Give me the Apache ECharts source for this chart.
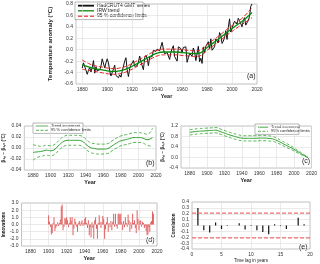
<!DOCTYPE html>
<html><head><meta charset="utf-8">
<script src="https://cdn.jsdelivr.net/npm/echarts@6/dist/echarts.min.js"></script>
<style>html,body{margin:0;padding:0;background:#fff}#c{width:320px;height:264px}</style>
</head><body><div id="c"></div>
<script>
// ---------- Panel (a) ----------
const hadStart = 1880;
const hadcrut = [-0.32,-0.23,-0.26,-0.36,-0.43,-0.36,-0.31,-0.39,-0.31,-0.19,
-0.41,-0.30,-0.37,-0.40,-0.35,-0.29,-0.16,-0.17,-0.32,-0.23,
-0.16,-0.23,-0.37,-0.46,-0.49,-0.34,-0.27,-0.45,-0.46,-0.49,
-0.44,-0.48,-0.38,-0.36,-0.20,-0.14,-0.35,-0.47,-0.33,-0.27,
-0.27,-0.19,-0.29,-0.27,-0.28,-0.22,-0.11,-0.21,-0.21,-0.35,
-0.14,-0.10,-0.15,-0.28,-0.13,-0.16,-0.12,-0.01,-0.01,-0.03,
0.01,0.00,-0.02,-0.01,0.13,0.01,-0.07,-0.04,-0.05,-0.07,
-0.17,-0.05,0.02,0.07,-0.12,-0.14,-0.20,0.05,0.06,0.02,
-0.05,0.04,0.01,0.05,-0.22,-0.14,-0.07,-0.07,-0.11,0.03,
-0.03,-0.19,-0.07,0.06,-0.21,-0.15,-0.24,0.05,-0.06,0.06,
0.09,0.14,0.01,0.19,-0.01,-0.03,0.05,0.19,0.20,0.12,
0.30,0.25,0.11,0.15,0.21,0.33,0.18,0.39,0.54,0.31,
0.29,0.44,0.50,0.51,0.45,0.55,0.51,0.49,0.40,0.51,
0.56,0.43,0.47,0.51,0.58,0.76,0.80];
const trendYears = [1880,1885,1890,1895,1900,1905,1910,1915,1920,1925,1930,1935,1940,1945,1950,1955,1960,1965,1970,1975,1980,1985,1990,1995,2000,2005,2010,2016];
const irwTrend = [-0.26,-0.30,-0.33,-0.35,-0.37,-0.38,-0.37,-0.34,-0.29,-0.23,-0.17,-0.11,-0.06,-0.04,-0.04,-0.04,-0.05,-0.06,-0.07,-0.05,0.04,0.12,0.20,0.29,0.37,0.45,0.53,0.65];
const irwUpper = [-0.18,-0.24,-0.28,-0.30,-0.32,-0.33,-0.32,-0.29,-0.24,-0.18,-0.12,-0.06,-0.01,0.01,0.01,0.01,0.00,-0.01,-0.02,0.00,0.09,0.17,0.25,0.34,0.42,0.50,0.59,0.74];
const irwLower = [-0.34,-0.36,-0.38,-0.40,-0.42,-0.43,-0.42,-0.39,-0.34,-0.28,-0.22,-0.16,-0.11,-0.09,-0.09,-0.09,-0.10,-0.11,-0.12,-0.10,-0.01,0.07,0.15,0.24,0.32,0.40,0.47,0.56];
// ---------- Panel (b) ----------
const incB = [-0.008,-0.007,-0.006,-0.004,-0.005,-0.002,0.006,0.012,0.014,0.014,0.014,0.013,0.007,0.001,-0.001,-0.002,-0.002,-0.001,0.004,0.009,0.013,0.015,0.017,0.019,0.019,0.018,0.015,0.019];
const incBUp = [0.006,0.004,0.003,0.005,0.004,0.007,0.015,0.021,0.023,0.023,0.023,0.022,0.016,0.010,0.008,0.007,0.007,0.008,0.013,0.018,0.022,0.024,0.026,0.028,0.028,0.027,0.025,0.036];
const incBLo = [-0.022,-0.017,-0.015,-0.013,-0.014,-0.011,-0.003,0.003,0.005,0.005,0.005,0.004,-0.002,-0.008,-0.010,-0.011,-0.011,-0.010,-0.005,0.000,0.004,0.006,0.008,0.010,0.010,0.009,0.005,0.003];
// ---------- Panel (c) ----------
const incC = [0.96,0.98,1.00,1.01,1.02,1.03,1.04,0.99,0.93,0.87,0.82,0.77,0.74,0.73,0.73,0.73,0.74,0.74,0.73,0.71,0.65,0.57,0.48,0.40,0.31,0.21,0.11,0.00];
const incCUp = [1.06,1.08,1.10,1.11,1.12,1.13,1.14,1.09,1.03,0.97,0.92,0.87,0.84,0.83,0.83,0.83,0.84,0.84,0.83,0.80,0.74,0.65,0.56,0.47,0.37,0.26,0.14,0.00];
const incCLo = [0.86,0.88,0.90,0.91,0.92,0.93,0.94,0.89,0.83,0.77,0.72,0.67,0.64,0.63,0.63,0.63,0.64,0.64,0.63,0.62,0.56,0.49,0.40,0.33,0.25,0.16,0.08,0.00];
// ---------- Panel (d) ----------
const innovStart = 1900;
const innovations = [1.3,0.4,-0.3,-1.4,-1.2,0.2,1.0,-0.9,-0.5,-0.2,
0.3,-0.2,0.2,0.7,2.5,2.8,-0.8,-0.3,0.9,0.8,
1.0,0.6,-0.4,0.2,1.0,0.5,1.0,-1.5,-0.6,0.8,
0.4,-0.3,-1.0,0.2,0.5,-0.2,0.3,0.6,-0.2,0.2,
0.8,1.0,0.2,-0.5,0.6,-1.5,-0.4,-1.8,0.3,-0.5,
-2.0,0.6,1.0,-0.6,-2.0,0.2,1.3,0.4,-0.5,0.3,
1.2,0.8,-2.0,-0.7,0.3,1.0,-1.0,0.2,-0.4,0.5,
-0.8,0.4,1.5,-0.3,1.5,-0.2,-0.6,1.5,1.5,1.4,
1.5,0.3,-0.8,0.5,-0.4,1.0,0.2,-0.3,1.4,0.6,
-1.0,0.3,-0.6,1.5,0.2,0.6,-0.5,-1.2,2.0,0.8,
-0.8,0.5,0.6,-0.3,0.4,0.2,-0.5,-0.2,-0.9,-1.5,
-1.4,-0.4,-1.0,0.3,0.5,1.8,1.5];
// ---------- Panel (e) ----------
const lags = [1,2,3,4,5,6,7,8,9,10,11,12,13,14,15,16,17,18,19];
const acf = [0.3,-0.08,-0.12,0.05,-0.06,-0.01,0.0,0.04,-0.07,0.01,-0.08,-0.11,-0.15,0.02,-0.01,-0.06,0.0,0.13,0.02];
const acfLimits = [0.21,-0.21];
const yearTicks = [1880,1900,1920,1940,1960,1980,2000,2020];

const F = 'Liberation Sans';
const had = hadcrut.map((v,i)=>[hadStart+i, v]);
const pair = (ys, vs) => ys.map((y,i)=>[y, vs[i]]);
const innov = innovations.map((v,i)=>[innovStart+i, v]);
const acfData = lags.map((l,i)=>[l, acf[i]]);

const gridLine = {show:true, lineStyle:{color:'#dcdcdc', width:0.6}};
const lbl = (extra) => Object.assign({fontSize:5, color:'#333', fontFamily:F, margin:3}, extra||{});
function yearAxis(gi, min, gap){
  return {type:'value', gridIndex:gi, min:min, max:2020,
    axisLine:{show:false}, axisTick:{show:false, customValues:yearTicks},
    axisLabel:lbl({customValues:yearTicks, formatter:v=>String(v)}), splitLine:gridLine,
    name:'Year', nameLocation:'middle', nameGap:gap,
    nameTextStyle:{fontSize:5.5, fontWeight:'bold', fontFamily:F, color:'#222'}};
}
function valAxis(gi, min, max, iv, dec, name, gap, nfs){
  return {type:'value', gridIndex:gi, min:min, max:max, interval:iv,
    axisLine:{show:false}, axisTick:{show:false},
    axisLabel:lbl({formatter:v=>v.toFixed(dec)}), splitLine:gridLine,
    name:name, nameLocation:'middle', nameGap:gap, nameRotate:90,
    nameTextStyle:{fontSize:nfs, fontWeight:'bold', fontFamily:F, color:'#222'}};
}
const gridBox = {show:true, borderColor:'#9a9a9a', borderWidth:0.6, backgroundColor:'#fff'};

// legend drawing helper (graphic)
function legendBox(x, y, w, rowH, items, fs, lineW){
  const els = [{type:'rect', shape:{x:x, y:y, width:w, height:rowH*items.length+2},
    style:{fill:'#fff', stroke:'#888', lineWidth:0.6}}];
  items.forEach((it,i)=>{
    const cy = y + 1 + rowH*i + rowH/2;
    els.push({type:'line', shape:{x1:x+3, y1:cy, x2:x+3+lineW, y2:cy},
      style:{stroke:it.c, lineWidth:it.w, lineDash:it.d||null}});
    els.push({type:'text', x:x+6+lineW, y:cy, style:{text:it.t, fontSize:fs, fontFamily:F, fill:'#222', verticalAlign:'middle'}});
  });
  return {type:'group', z:100, children:els};
}

const option = {
  animation:false,
  grid:[
    Object.assign({left:76, top:4, width:181, height:80}, gridBox),
    Object.assign({left:21, top:126, width:135, height:44}, gridBox),
    Object.assign({left:181, top:126, width:132, height:42}, gridBox),
    Object.assign({left:21, top:203, width:136, height:43}, gridBox),
    Object.assign({left:192, top:202, width:118, height:51}, gridBox)
  ],
  xAxis:[
    yearAxis(0,1875,9),
    yearAxis(1,1870,9),
    yearAxis(2,1870,9),
    yearAxis(3,1870,9),
    {type:'value', gridIndex:4, min:0, max:20, interval:5,
     axisLine:{show:false}, axisTick:{show:false}, axisLabel:lbl(), splitLine:gridLine,
     name:'Time lag in years', nameLocation:'middle', nameGap:9,
     nameTextStyle:{fontSize:4.5, fontFamily:F, color:'#222'}}
  ],
  yAxis:[
    valAxis(0,-0.6,0.8,0.2,1,'Temperature anomaly (°C)',13,6),
    valAxis(1,-0.04,0.04,0.02,2,'β₁,ₜ − β₁,₀ (°C)',15,4.5),
    valAxis(2,-0.4,1.2,0.4,1,'β₂,ₜ − β₂,₀ (°C)',12,4.5),
    valAxis(3,-3,3,1,1,'Innovations',12,4.5),
    valAxis(4,-0.4,0.4,0.1,1,'Correlation',13,4.5)
  ],
  graphic:[
    legendBox(75, 2, 68, 5.2, [
      {t:'HadCRUT4 GMT series', c:'#111', w:2},
      {t:'IRW trend', c:'#0a8a0a', w:1.3},
      {t:'95 % confidence limits', c:'#e02020', w:1.3, d:[4,2]}], 5, 16),
    legendBox(33, 123, 50, 4.2, [
      {t:'Trend increment', c:'#2aa02a', w:1},
      {t:'95 % confidence limits', c:'#2aa02a', w:0.8, d:[3,1.5]}], 4, 12),
    legendBox(255, 124, 44, 4.2, [
      {t:'Trend increment', c:'#2aa02a', w:1},
      {t:'95% confidence limits', c:'#2aa02a', w:0.8, d:[3,1.5]}], 4, 10),
    {type:'text', left:247, top:73, style:{text:'(a)', fontSize:7, fontFamily:F, fill:'#222'}},
    {type:'text', left:146, top:160, style:{text:'(b)', fontSize:7, fontFamily:F, fill:'#222'}},
    {type:'text', left:302, top:158, style:{text:'(c)', fontSize:7, fontFamily:F, fill:'#222'}},
    {type:'text', left:146, top:237, style:{text:'(d)', fontSize:7, fontFamily:F, fill:'#222'}},
    {type:'text', left:299, top:244, style:{text:'(e)', fontSize:7, fontFamily:F, fill:'#222'}}
  ],
  series:[
    {type:'line', xAxisIndex:0, yAxisIndex:0, data:had, symbol:'none',
     lineStyle:{color:'#111', width:1}, z:2},
    {type:'line', xAxisIndex:0, yAxisIndex:0, data:pair(trendYears,irwTrend), symbol:'none', smooth:true,
     lineStyle:{color:'#0a8a0a', width:1.3}, z:4},
    {type:'line', xAxisIndex:0, yAxisIndex:0, data:pair(trendYears,irwUpper), symbol:'none', smooth:true,
     lineStyle:{color:'#e02020', width:1, type:[4,2]}, z:3},
    {type:'line', xAxisIndex:0, yAxisIndex:0, data:pair(trendYears,irwLower), symbol:'none', smooth:true,
     lineStyle:{color:'#e02020', width:1, type:[4,2]}, z:3},

    {type:'line', xAxisIndex:1, yAxisIndex:1, data:pair(trendYears,incB), symbol:'none', smooth:true,
     lineStyle:{color:'#2aa02a', width:1}},
    {type:'line', xAxisIndex:1, yAxisIndex:1, data:pair(trendYears,incBUp), symbol:'none', smooth:true,
     lineStyle:{color:'#2aa02a', width:0.8, type:[3,2]}},
    {type:'line', xAxisIndex:1, yAxisIndex:1, data:pair(trendYears,incBLo), symbol:'none', smooth:true,
     lineStyle:{color:'#2aa02a', width:0.8, type:[3,2]}},

    {type:'line', xAxisIndex:2, yAxisIndex:2, data:pair(trendYears,incC), symbol:'none', smooth:true,
     lineStyle:{color:'#2aa02a', width:1}},
    {type:'line', xAxisIndex:2, yAxisIndex:2, data:pair(trendYears,incCUp), symbol:'none', smooth:true,
     lineStyle:{color:'#2aa02a', width:0.8, type:[3,2]}},
    {type:'line', xAxisIndex:2, yAxisIndex:2, data:pair(trendYears,incCLo), symbol:'none', smooth:true,
     lineStyle:{color:'#2aa02a', width:0.8, type:[3,2]}},

    {type:'bar', xAxisIndex:3, yAxisIndex:3, data:innov, barWidth:0.9,
     itemStyle:{color:'#e06060'}},

    {type:'bar', xAxisIndex:4, yAxisIndex:4, data:acfData, barWidth:1.2,
     itemStyle:{color:'#111'}},
    {type:'line', xAxisIndex:4, yAxisIndex:4, data:[[0,acfLimits[0]],[20,acfLimits[0]]], symbol:'none',
     lineStyle:{color:'#f07070', width:1.2, type:[4,2]}},
    {type:'line', xAxisIndex:4, yAxisIndex:4, data:[[0,acfLimits[1]],[20,acfLimits[1]]], symbol:'none',
     lineStyle:{color:'#f07070', width:1.2, type:[4,2]}}
  ]
};
echarts.init(document.getElementById('c'), null, {renderer:'canvas'}).setOption(option);
</script></body></html>
